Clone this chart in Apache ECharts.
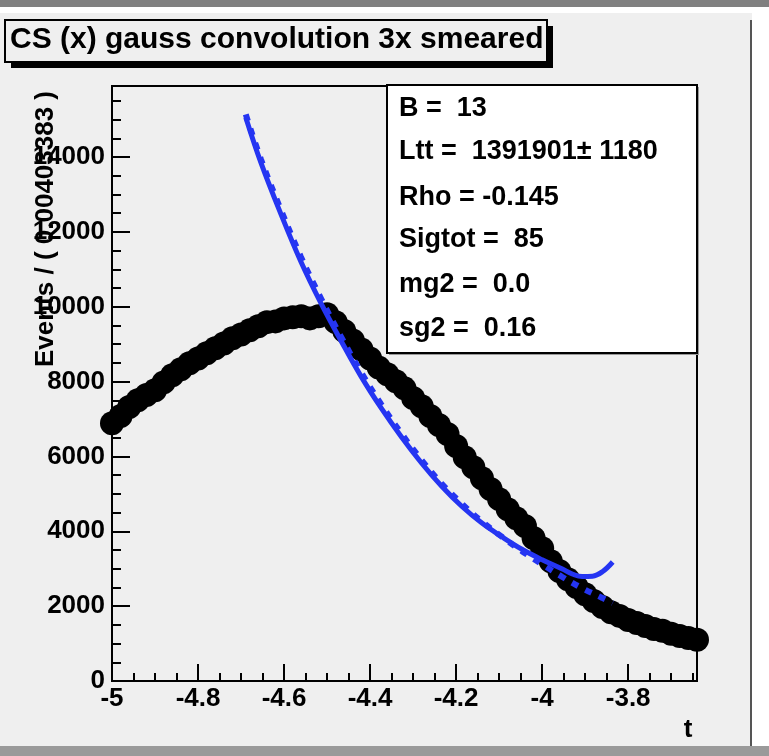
<!DOCTYPE html>
<html>
<head>
<meta charset="utf-8">
<script src="https://cdn.jsdelivr.net/npm/echarts@6/dist/echarts.min.js"></script>
<style>
  html, body { margin: 0; padding: 0; background: #efefef; }
  #chart { width: 769px; height: 756px; }
</style>
</head>
<body>
<div id="chart"></div>
<script>
// binned data points (t, events)
const tPoints = [
  -5.00, -4.98, -4.96, -4.94, -4.92, -4.90, -4.88, -4.86, -4.84, -4.82,
  -4.80, -4.78, -4.76, -4.74, -4.72, -4.70, -4.68, -4.66, -4.64, -4.62,
  -4.60, -4.58, -4.56, -4.54, -4.52, -4.50, -4.48, -4.46, -4.44, -4.42,
  -4.40, -4.38, -4.36, -4.34, -4.32, -4.30, -4.28, -4.26, -4.24, -4.22,
  -4.20, -4.18, -4.16, -4.14, -4.12, -4.10, -4.08, -4.06, -4.04, -4.02,
  -4.00, -3.98, -3.96, -3.94, -3.92, -3.90, -3.88, -3.86, -3.84, -3.82,
  -3.80, -3.78, -3.76, -3.74, -3.72, -3.70, -3.68, -3.66, -3.64
];
const eventPoints = [
  6890, 7080, 7320, 7500, 7640, 7770, 7980, 8170, 8330, 8490,
  8620, 8760, 8890, 9020, 9160, 9260, 9370, 9480, 9590, 9610,
  9690, 9720, 9750, 9690, 9750, 9800, 9590, 9350, 9100, 8860,
  8620, 8380, 8200, 8010, 7820, 7560, 7340, 7080, 6840, 6600,
  6280, 5980, 5710, 5420, 5130, 4860, 4590, 4350, 4140, 3820,
  3550, 3200, 2940, 2720, 2510, 2320, 2140, 1980, 1840, 1740,
  1630, 1550, 1470, 1390, 1340, 1260, 1200, 1150, 1100
];

// solid blue curve
const tSolid = [-4.689, -4.654, -4.607, -4.561, -4.514, -4.467, -4.421, -4.374, -4.327, -4.280,
  -4.234, -4.187, -4.140, -4.093, -4.047, -4.000, -3.953, -3.930, -3.907, -3.883, -3.860, -3.836];
const solidValues = [15060, 13860, 12470, 11210, 10090, 9080, 8140, 7290, 6520, 5820,
  5210, 4670, 4220, 3850, 3520, 3240, 2990, 2860, 2790, 2800, 2920, 3180];

// dashed blue curve
const tDashed = [-4.689, -4.654, -4.607, -4.561, -4.514, -4.467, -4.421, -4.374, -4.327, -4.280,
  -4.234, -4.187, -4.140, -4.093, -4.047, -4.000, -3.953, -3.907, -3.860, -3.836];
const dashedValues = [15140, 13950, 12580, 11340, 10220, 9190, 8250, 7390, 6610, 5900,
  5280, 4740, 4260, 3850, 3470, 3120, 2780, 2480, 2220, 2080];

const statsLines = [
  'B =  13',
  'Ltt =  1391901\u00b1 1180',
  'Rho = -0.145',
  'Sigtot =  85',
  'mg2 =  0.0',
  'sg2 =  0.16'
];
const statsY = [109, 152, 198, 240, 285, 329];

const FONT = '"Liberation Sans", Arial, Helvetica, sans-serif';
const BLUE = '#2535f2';

const zip = (xs, ys) => xs.map((x, i) => [x, ys[i]]);

const chart = echarts.init(document.getElementById('chart'));

const graphics = [
  // canvas borders
  { type: 'rect', shape: { x: 0, y: 0, width: 769, height: 7 }, style: { fill: '#808080' }, z: 1 },
  { type: 'rect', shape: { x: 0, y: 7, width: 769, height: 6 }, style: { fill: '#ffffff' }, z: 1 },
  { type: 'rect', shape: { x: 752, y: 13, width: 17, height: 733 }, style: { fill: '#ffffff' }, z: 1 },
  { type: 'line', shape: { x1: 751, y1: 20, x2: 751, y2: 746 }, style: { stroke: '#555', lineWidth: 2 }, z: 1 },
  { type: 'rect', shape: { x: 0, y: 746, width: 769, height: 10 }, style: { fill: '#9a9a9a' }, z: 1 },
  // title box with shadow
  { type: 'rect', shape: { x: 11, y: 26, width: 542, height: 42 }, style: { fill: '#000' }, z: 50 },
  { type: 'rect', shape: { x: 5, y: 20, width: 542, height: 42 }, style: { fill: '#efefef', stroke: '#000', lineWidth: 2 }, z: 51 },
  { type: 'text', x: 10, y: 40, z: 52,
    style: { text: 'CS (x) gauss convolution 3x smeared', font: 'bold 30px ' + FONT, fill: '#000', textVerticalAlign: 'middle' } },
  // stats box
  { type: 'rect', shape: { x: 389, y: 87, width: 310, height: 268 }, style: { fill: '#999' }, z: 60 },
  { type: 'rect', shape: { x: 387, y: 85, width: 310, height: 268 }, style: { fill: '#fff', stroke: '#000', lineWidth: 2 }, z: 61 },
  // axis titles
  { type: 'text', x: 46, y: 229, rotation: Math.PI / 2, z: 40,
    style: { text: 'Events / ( 0.00403383 )', font: 'bold 26px ' + FONT, fill: '#000', textAlign: 'center', textVerticalAlign: 'middle' } },
  { type: 'text', x: 688, y: 730, z: 40,
    style: { text: 't', font: 'bold 26px ' + FONT, fill: '#000', textAlign: 'center', textVerticalAlign: 'middle' } }
];
statsLines.forEach((s, i) => {
  graphics.push({ type: 'text', x: 399, y: statsY[i], z: 62,
    style: { text: s, font: 'bold 27px ' + FONT, fill: '#000', textVerticalAlign: 'middle' } });
});

const option = {
  backgroundColor: '#efefef',
  animation: false,
  grid: {
    left: 112, right: 72, top: 86, bottom: 75,
    show: true, borderColor: '#000', borderWidth: 2, backgroundColor: 'transparent'
  },
  xAxis: {
    type: 'value',
    min: -5, max: -3.64, interval: 0.2,
    splitLine: { show: false },
    axisLine: { lineStyle: { color: '#000', width: 2 } },
    axisTick: { inside: true, length: 17, lineStyle: { color: '#000', width: 2 } },
    minorTick: { show: true, splitNumber: 4, length: 8, lineStyle: { color: '#000', width: 2 } },
    axisLabel: {
      showMaxLabel: false, margin: 5,
      color: '#000', fontFamily: FONT, fontWeight: 'bold', fontSize: 26,
      formatter: v => String(parseFloat(v.toFixed(2)))
    }
  },
  yAxis: {
    type: 'value',
    min: 0, max: 15900, interval: 2000,
    splitLine: { show: false },
    axisLine: { show: true, lineStyle: { color: '#000', width: 2 } },
    axisTick: { show: true, inside: true, length: 18, lineStyle: { color: '#000', width: 2 } },
    minorTick: { show: true, splitNumber: 4, length: 9, lineStyle: { color: '#000', width: 2 } },
    axisLabel: {
      showMaxLabel: false, margin: 7,
      color: '#000', fontFamily: FONT, fontWeight: 'bold', fontSize: 26,
      formatter: v => String(v)
    }
  },
  series: [
    {
      type: 'scatter',
      data: zip(tPoints, eventPoints),
      symbol: 'circle',
      symbolSize: 24,
      clip: false,
      itemStyle: { color: '#000', opacity: 1 },
      z: 2
    },
    {
      type: 'line',
      data: zip(tSolid, solidValues),
      smooth: 0.4,
      showSymbol: false,
      lineStyle: { color: BLUE, width: 5 },
      z: 3
    },
    {
      type: 'line',
      data: zip(tDashed, dashedValues),
      smooth: 0.4,
      showSymbol: false,
      lineStyle: { color: BLUE, width: 6, type: [7, 8] },
      z: 4
    }
  ],
  graphic: graphics
};

chart.setOption(option);
</script>
</body>
</html>
